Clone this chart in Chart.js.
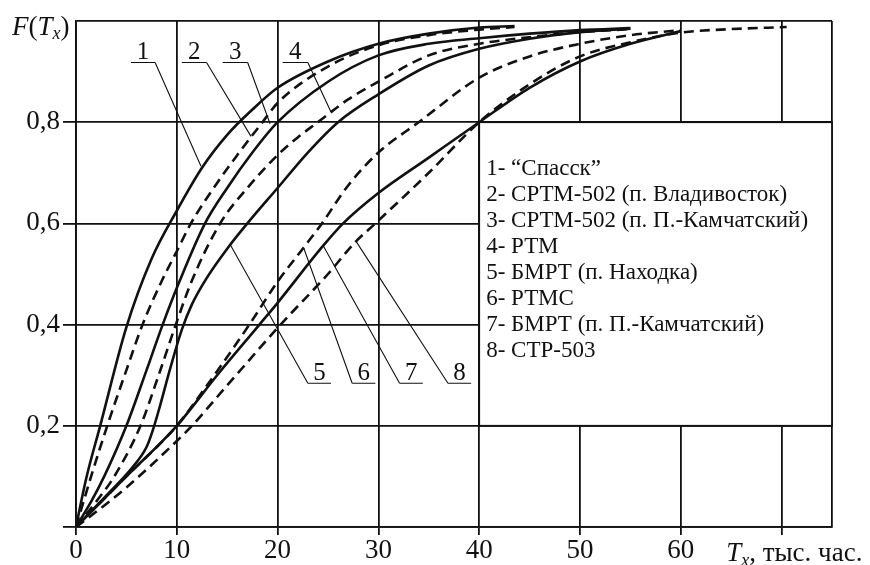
<!DOCTYPE html>
<html>
<head>
<meta charset="utf-8">
<title>F(Tx)</title>
<script src="https://cdn.jsdelivr.net/npm/chart.js@4.4.0/dist/chart.umd.min.js"></script>
<style>
  html, body { margin: 0; padding: 0; background: #fff; }
  #wrap { width: 870px; height: 565px; position: relative; }
</style>
</head>
<body>
<div id="wrap"><canvas id="chart"></canvas></div>
<script>
// axis ticks
const xTicks = [0, 10, 20, 30, 40, 50, 60, 70, 75];
const xTickLabels = ['0', '10', '20', '30', '40', '50', '60', '', ''];
const yTicks = [0, 0.2, 0.4, 0.6, 0.8, 1];
const yTickLabels = ['', '0,2', '0,4', '0,6', '0,8', ''];

// vessel types
const names = [
  '“Спасск”',
  'СРТМ-502 (п. Владивосток)',
  'СРТМ-502 (п. П.-Камчатский)',
  'РТМ',
  'БМРТ (п. Находка)',
  'РТМС',
  'БМРТ (п. П.-Камчатский)',
  'СТР-503'
];

// T, thousand hours  /  F(T)
const t1 = [0, 1, 2.4, 5, 7.5, 10, 12.5, 15, 17.5, 20, 25, 30, 35, 40, 43.5];
const f1 = [0, 0.095, 0.2, 0.395, 0.53, 0.625, 0.71, 0.775, 0.825, 0.868, 0.92, 0.955, 0.975, 0.987, 0.99];

const t2 = [0, 1.5, 3.1, 5, 6.6, 8.6, 10, 11.4, 14, 16, 18.5, 20, 25, 30, 35, 40, 43.5];
const f2 = [0, 0.1, 0.2, 0.31, 0.4, 0.49, 0.545, 0.6, 0.68, 0.735, 0.8, 0.838, 0.91, 0.952, 0.972, 0.983, 0.988];

const t3 = [0, 1.5, 2.8, 5, 7, 8.6, 10.3, 12.8, 15, 17.5, 20, 25, 30, 35, 40, 45, 50, 55];
const f3 = [0, 0.05, 0.1, 0.2, 0.31, 0.4, 0.487, 0.6, 0.67, 0.74, 0.8, 0.88, 0.932, 0.955, 0.966, 0.975, 0.982, 0.986];

const t4 = [0, 2, 3.8, 6.4, 8.2, 9.9, 11.5, 14.3, 17, 20, 22, 24, 27, 30, 35, 40, 45, 50, 55];
const f4 = [0, 0.05, 0.1, 0.2, 0.3, 0.4, 0.487, 0.6, 0.67, 0.735, 0.77, 0.8, 0.845, 0.88, 0.932, 0.955, 0.968, 0.978, 0.984];

const t5 = [0, 3, 5.6, 7, 7.6, 8.3, 9.3, 10.5, 11.5, 12.9, 15, 17, 20, 23, 26, 30, 35, 40, 45, 50, 55];
const f5 = [0, 0.062, 0.118, 0.158, 0.19, 0.237, 0.31, 0.39, 0.44, 0.49, 0.55, 0.6, 0.67, 0.74, 0.8, 0.855, 0.912, 0.945, 0.965, 0.978, 0.985];

const t6 = [0, 2, 5, 10, 13, 17.2, 20, 22.5, 24.4, 27, 30, 34, 40, 45, 50, 55, 60];
const f6 = [0, 0.04, 0.1, 0.2, 0.28, 0.4, 0.485, 0.55, 0.6, 0.675, 0.74, 0.8, 0.888, 0.93, 0.955, 0.972, 0.982];

const t7 = [0, 2, 5, 10, 14, 18.2, 20, 24.4, 26.5, 30, 35, 40, 45, 50, 55, 60];
const f7 = [0, 0.04, 0.1, 0.2, 0.3, 0.4, 0.443, 0.553, 0.6, 0.66, 0.73, 0.8, 0.868, 0.92, 0.955, 0.98];

const t8 = [0, 2, 5, 10, 11.5, 15, 20.3, 25, 27.7, 29.7, 35, 40, 45, 50, 55, 60, 65, 70.5];
const f8 = [0, 0.03, 0.078, 0.17, 0.2, 0.28, 0.4, 0.5, 0.563, 0.6, 0.7, 0.8, 0.875, 0.93, 0.958, 0.977, 0.984, 0.988];

const curves = [[t1, f1], [t2, f2], [t3, f3], [t4, f4], [t5, f5], [t6, f6], [t7, f7], [t8, f8]];

// numbered leaders: underline from u0 to u1 at height uy, pointing at (tx, ty)
const callouts = [
  { n: '1', u0: 5.45, u1: 7.85, uy: 0.918, tx: 12.4, ty: 0.713, from: 'right' },
  { n: '2', u0: 10.5, u1: 12.95, uy: 0.918, tx: 17.36, ty: 0.772, from: 'right' },
  { n: '3', u0: 14.55, u1: 17.03, uy: 0.918, tx: 19.25, ty: 0.797, from: 'right' },
  { n: '4', u0: 20.5, u1: 23.0, uy: 0.918, tx: 25.3, ty: 0.82, from: 'right' },
  { n: '5', u0: 23.0, u1: 25.3, uy: 0.284, tx: 15.28, ty: 0.559, from: 'left' },
  { n: '6', u0: 27.4, u1: 29.7, uy: 0.284, tx: 22.6, ty: 0.551, from: 'left' },
  { n: '7', u0: 32.1, u1: 34.4, uy: 0.284, tx: 24.5, ty: 0.557, from: 'left' },
  { n: '8', u0: 36.9, u1: 39.2, uy: 0.284, tx: 27.8, ty: 0.564, from: 'left' }
];

const SERIF = '"Liberation Serif", "Times New Roman", serif';
const INK = '#111';

function drawRich(ctx, x, base, parts) {
  parts.forEach(p => {
    ctx.font = (p.italic ? 'italic ' : '') + p.size + 'px ' + SERIF;
    ctx.fillText(p.text, x, base + (p.dy || 0));
    x += ctx.measureText(p.text).width + (p.gap || 0);
  });
}

const decor = {
  id: 'decor',
  beforeDatasetsDraw(chart) {
    const { ctx, scales: { x, y } } = chart;
    // legend panel sits in the lower right quarter of the grid
    const l = x.getPixelForValue(40), r = x.getPixelForValue(75);
    const t = y.getPixelForValue(0.8), b = y.getPixelForValue(0.2);
    ctx.save();
    ctx.fillStyle = '#fff';
    ctx.fillRect(l, t, r - l, b - t);
    ctx.strokeStyle = INK;
    ctx.lineWidth = 1.8;
    ctx.strokeRect(l, t, r - l, b - t);
    ctx.fillStyle = INK;
    ctx.font = '23px ' + SERIF;
    ctx.textBaseline = 'middle';
    ctx.textAlign = 'left';
    names.forEach((n, i) => ctx.fillText((i + 1) + '- ' + n, l + 7, t + 47 + i * 25.9));
    ctx.restore();
  },
  afterDatasetsDraw(chart) {
    const { ctx, chartArea, scales: { x, y } } = chart;
    ctx.save();
    ctx.strokeStyle = INK;
    ctx.fillStyle = INK;
    ctx.lineWidth = 1.1;
    ctx.font = '25px ' + SERIF;
    ctx.textAlign = 'center';
    ctx.textBaseline = 'alphabetic';
    callouts.forEach(c => {
      const a = x.getPixelForValue(c.u0), b = x.getPixelForValue(c.u1);
      const uy = y.getPixelForValue(c.uy);
      const sx = c.from === 'right' ? b : a;
      ctx.beginPath();
      ctx.moveTo(a, uy);
      ctx.lineTo(b, uy);
      ctx.moveTo(sx, uy);
      ctx.lineTo(x.getPixelForValue(c.tx), y.getPixelForValue(c.ty));
      ctx.stroke();
      ctx.fillText(c.n, (a + b) / 2, uy - 3);
    });

    // axis titles
    ctx.textAlign = 'left';
    drawRich(ctx, chartArea.left - 64, chartArea.top + 14, [
      { text: 'F', italic: true, size: 27 },
      { text: '(', size: 27 },
      { text: 'T', italic: true, size: 27 },
      { text: 'x', italic: true, size: 18, dy: 4 },
      { text: ')', size: 27 }
    ]);
    drawRich(ctx, x.getPixelForValue(64.5), chartArea.bottom + 34, [
      { text: 'T', italic: true, size: 27 },
      { text: 'x', italic: true, size: 18, dy: 5 },
      { text: ', тыс. час.', size: 27 }
    ]);
    ctx.restore();
  }
};

const datasets = curves.map(([t, f], i) => ({
  label: names[i],
  data: t.map((v, k) => ({ x: v, y: f[k] })),
  borderColor: INK,
  borderWidth: 2.6,
  borderDash: i % 2 ? [10, 6] : [],
  pointRadius: 0,
  showLine: true,
  fill: false,
  cubicInterpolationMode: 'monotone'
}));

new Chart(document.getElementById('chart'), {
  type: 'scatter',
  data: { datasets },
  options: {
    responsive: true,
    maintainAspectRatio: false,
    animation: false,
    layout: { padding: { top: 21, right: 38, left: 0, bottom: 0 } },
    plugins: { legend: { display: false }, tooltip: { enabled: false } },
    scales: {
      x: {
        type: 'linear',
        min: 0,
        max: 75,
        afterBuildTicks: axis => { axis.ticks = xTicks.map(v => ({ value: v })); },
        afterFit: axis => { axis.height = 38; },
        ticks: {
          autoSkip: false,
          maxRotation: 0,
          padding: 0,
          color: INK,
          font: { family: SERIF, size: 27 },
          callback: (v, i) => xTickLabels[i]
        },
        grid: {
          color: INK,
          lineWidth: 1.8,
          tickLength: 8,
          tickColor: c => (c.tick && c.tick.value === 75 ? 'transparent' : INK)
        },
        border: { color: INK, width: 1.8 }
      },
      y: {
        type: 'linear',
        min: 0,
        max: 1,
        afterBuildTicks: axis => { axis.ticks = yTicks.map(v => ({ value: v })); },
        afterFit: axis => { axis.width = 76; },
        ticks: {
          autoSkip: false,
          padding: 3,
          color: INK,
          font: { family: SERIF, size: 27 },
          callback: (v, i) => yTickLabels[i]
        },
        grid: {
          color: INK,
          lineWidth: 1.8,
          tickLength: 13,
          tickColor: c => (c.tick && c.tick.value === 1 ? 'transparent' : INK)
        },
        border: { color: INK, width: 1.8 }
      }
    }
  },
  plugins: [decor]
});
</script>
</body>
</html>
